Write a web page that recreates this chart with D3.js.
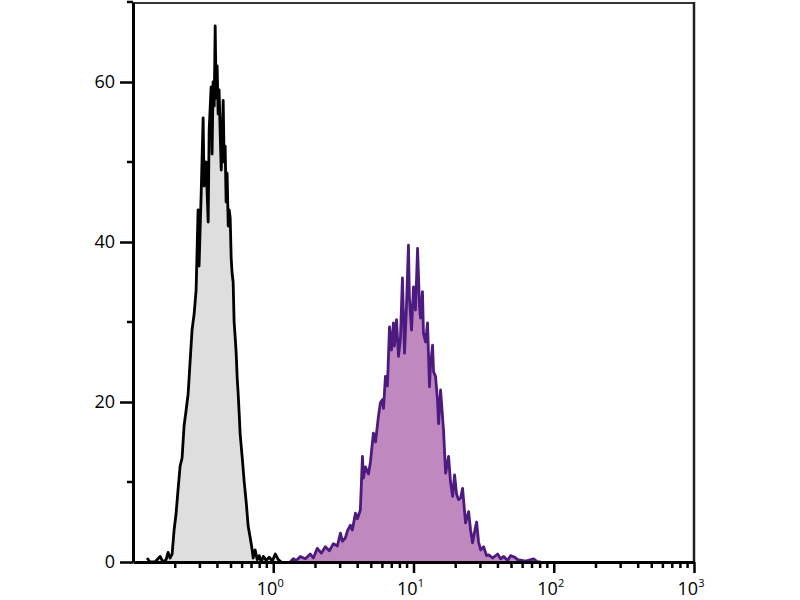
<!DOCTYPE html>
<html>
<head>
<meta charset="utf-8">
<script src="https://cdn.jsdelivr.net/npm/d3@7"></script>
<style>
  body { margin: 0; background: #fff; }
  svg { display: block; }
</style>
</head>
<body>
<svg id="histo" width="800" height="600"></svg>
<script>
// isotype control (grey) - log10 of intensity and event count
const isoLog = [-0.900, -0.879, -0.843, -0.807, -0.786, -0.764, -0.750, -0.736, -0.721, -0.707,
	-0.693, -0.679, -0.664, -0.650, -0.636, -0.621, -0.607, -0.593, -0.579, -0.564,
	-0.550, -0.536, -0.529, -0.514, -0.500, -0.493, -0.479, -0.464, -0.457, -0.443,
	-0.436, -0.429, -0.421, -0.414, -0.407, -0.400, -0.393, -0.386, -0.379, -0.371,
	-0.364, -0.357, -0.350, -0.343, -0.336, -0.329, -0.321, -0.314, -0.307, -0.300,
	-0.293, -0.286, -0.279, -0.271, -0.264, -0.257, -0.250, -0.243, -0.236, -0.221,
	-0.207, -0.193, -0.186, -0.179, -0.164, -0.150, -0.143, -0.129, -0.114, -0.100,
	-0.086, -0.071, -0.050, -0.029, -0.007, 0.014, 0.036, 0.057];
const isoCount = [0.5, 0, 0, 0.7, 0, 0.3, 1.2, 0.5, 1, 4,
	6, 9, 12, 13, 17, 19, 21, 25, 29, 31,
	34, 44, 37, 46, 55.5, 47, 50, 42.5, 54, 59.4,
	51, 60, 57, 67, 58, 62, 56, 59, 54, 49,
	53, 57.7, 50, 52, 45, 48.6, 42, 44, 43, 38,
	36, 35, 30, 28, 26, 23, 21, 18.6, 16, 13,
	10, 7.5, 6, 4.5, 3, 1.5, 0.5, 1.5, 0.3, 0.8,
	0, 0.7, 0.2, 0.6, 0.1, 1, 0.3, 0];

// stained sample (purple)
const stainLog = [0.121, 0.143, 0.164, 0.193, 0.229, 0.264, 0.286, 0.314, 0.343, 0.371,
	0.400, 0.429, 0.457, 0.479, 0.493, 0.514, 0.529, 0.550, 0.564, 0.586,
	0.600, 0.621, 0.636, 0.643, 0.657, 0.679, 0.693, 0.714, 0.729, 0.750,
	0.764, 0.779, 0.786, 0.800, 0.814, 0.829, 0.843, 0.857, 0.864, 0.879,
	0.893, 0.907, 0.921, 0.936, 0.950, 0.964, 0.971, 0.986, 1.000, 1.014,
	1.029, 1.043, 1.050, 1.064, 1.071, 1.086, 1.100, 1.114, 1.121, 1.136,
	1.143, 1.157, 1.171, 1.179, 1.193, 1.214, 1.229, 1.250, 1.264, 1.279,
	1.293, 1.307, 1.321, 1.336, 1.350, 1.371, 1.393, 1.407, 1.421, 1.436,
	1.450, 1.464, 1.479, 1.500, 1.521, 1.536, 1.564, 1.600, 1.621, 1.643,
	1.671, 1.693, 1.721, 1.743, 1.800, 1.857, 1.886, 1.907];
const stainCount = [0, 0.4, 0.2, 0.7, 0.4, 1.0, 0.5, 1.7, 1.1, 1.9,
	1.4, 2.3, 2.0, 3.6, 2.6, 3.0, 3.9, 4.6, 4.0, 6.1,
	5.4, 6.5, 13.2, 10.5, 11.9, 11.0, 12.5, 16.1, 15.0, 18.2,
	19.9, 20.3, 19.2, 23.2, 22.0, 29.4, 26.5, 29.9, 27.0, 30.3,
	25.7, 28.0, 35.5, 26.1, 32.0, 39.6, 33.0, 29.0, 34.4, 31.5,
	39.2, 31.9, 30.5, 33.8, 28.6, 27.5, 29.9, 21.9, 24.5, 27.1,
	23.8, 23.2, 20.3, 17.3, 21.5, 16.5, 11.1, 13.2, 10.0, 8.2,
	10.9, 8.5, 7.8, 8.0, 9.2, 4.9, 6.3, 4.0, 2.4, 3.8,
	5.0, 2.5, 1.5, 1.9, 0.8, 0.9, 0.5, 1.0, 0.4, 0.7,
	0.2, 0.8, 0.6, 0.3, 0.1, 0.4, 0, 0];

const xMajor = [1, 10, 100, 1000];
const xExp = ['0', '1', '2', '3'];
const yMajor = [0, 20, 40, 60];
const yMinor = [10, 30, 50, 70];

const svg = d3.select('#histo');

const plotLeft = 133, plotRight = 694, plotTop = 2, plotBottom = 562;

const x = d3.scaleLog().domain([0.1, 1000]).range([plotLeft, plotRight]);
const y = d3.scaleLinear().domain([0, 70]).range([plotBottom, plotTop]);

const iso = isoLog.map((e, i) => ({ v: Math.pow(10, e), n: isoCount[i] }));
const stain = stainLog.map((e, i) => ({ v: Math.pow(10, e), n: stainCount[i] }));

const area = d3.area().x((d) => x(d.v)).y0(y(0)).y1((d) => y(d.n));
const line = d3.line().x((d) => x(d.v)).y((d) => y(d.n));

// filled histograms
svg.append('path').datum(iso).attr('d', area).attr('fill', '#dedede');
svg.append('path').datum(iso).attr('d', line)
	.attr('fill', 'none').attr('stroke', '#000').attr('stroke-width', 2.8)
	.attr('stroke-linejoin', 'round');

svg.append('path').datum(stain).attr('d', area).attr('fill', '#bf88bf');
svg.append('path').datum(stain).attr('d', line)
	.attr('fill', 'none').attr('stroke', '#4d1a80').attr('stroke-width', 2.8)
	.attr('stroke-linejoin', 'round');

// frame top and right
svg.append('line').attr('x1', plotLeft).attr('x2', plotRight)
	.attr('y1', plotTop + 1).attr('y2', plotTop + 1)
	.attr('stroke', '#333').attr('stroke-width', 2);
svg.append('line').attr('x1', plotRight).attr('x2', plotRight)
	.attr('y1', plotTop).attr('y2', plotBottom)
	.attr('stroke', '#222').attr('stroke-width', 2.5);

// x axis
const xMinor = x.ticks().filter((t) => t > 0.1 && !xMajor.includes(t));
const gx = svg.append('g').attr('transform', `translate(0,${plotBottom})`);
gx.call(d3.axisBottom(x).tickValues(xMajor).tickSize(11).tickSizeOuter(0).tickFormat(''));
gx.append('g').selectAll('line').data(xMinor).join('line')
	.attr('x1', (d) => x(d)).attr('x2', (d) => x(d))
	.attr('y1', 0).attr('y2', 6).attr('stroke', '#000').attr('stroke-width', 2.5);
gx.selectAll('.tick line').attr('stroke-width', 2.5);
gx.select('.domain').attr('stroke-width', 3);

const xl = gx.append('g').selectAll('text').data(xMajor).join('text')
	.attr('x', (d) => x(d) - 3)
	.attr('y', 33)
	.attr('text-anchor', 'middle')
	.attr('font-family', 'Open Sans, sans-serif')
	.attr('font-size', 18)
	.attr('fill', '#000');
xl.append('tspan').text('10');
xl.append('tspan').attr('dy', -8).attr('font-size', 11).text((d, i) => xExp[i]);

// y axis
const gy = svg.append('g').attr('transform', `translate(${plotLeft},0)`);
gy.call(d3.axisLeft(y).tickValues(yMajor).tickSize(13).tickSizeOuter(0).tickPadding(5));
gy.append('g').selectAll('line').data(yMinor).join('line')
	.attr('x1', 0).attr('x2', -6)
	.attr('y1', (d) => y(d)).attr('y2', (d) => y(d))
	.attr('stroke', '#000').attr('stroke-width', 2.5);
gy.selectAll('.tick line').attr('stroke-width', 2.5);
gy.select('.domain').attr('stroke-width', 3);
gy.selectAll('.tick text')
	.attr('font-family', 'Open Sans, sans-serif')
	.attr('font-size', 18)
	.attr('fill', '#000');
</script>
</body>
</html>
